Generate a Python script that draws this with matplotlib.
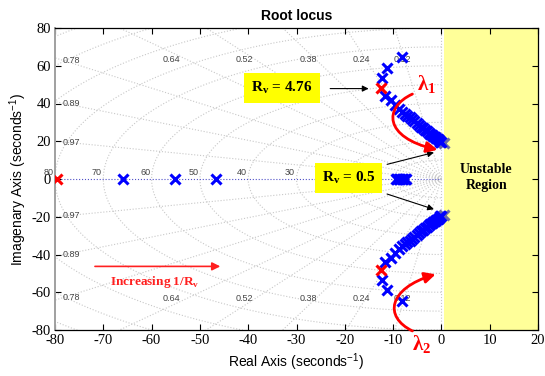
import matplotlib

matplotlib.use("Agg")

import matplotlib.pyplot as plt
import numpy as np
from matplotlib.patches import FancyArrowPatch
from matplotlib.path import Path

plt.rcParams["font.family"] = "sans-serif"
plt.rcParams["font.sans-serif"] = ["Liberation Sans", "DejaVu Sans"]
plt.rcParams["mathtext.fontset"] = "custom"
plt.rcParams["mathtext.rm"] = "Liberation Serif"
plt.rcParams["mathtext.bf"] = "Liberation Serif:bold"
plt.rcParams["mathtext.sf"] = "Liberation Sans"
plt.rcParams["axes.unicode_minus"] = False

# ── data ────────────────────────────────────────────────────────────────────
# open-loop / Rv = 4.76 poles (red) and real-axis poles (blue)
red_re = [-79.5, -12.6, -12.6]
red_im = [0.0, 48.4, -48.4]
real_re = [-66.0, -55.2, -46.7]
blob_re = [-9.4, -9.1, -8.8, -8.5, -8.2, -7.9, -7.6, -7.3]

# upper complex branch (lower branch is its conjugate)
branch_re = [-8.1, -11.2, -12.4, -11.6, -10.5, -9.7, -8.7, -8.1, -7.6, -7.1,
             -6.6, -6.1, -5.6, -5.1, -4.6, -4.2, -3.8, -3.4, -3.0, -2.6,
             -2.3, -2.0, -1.7, -1.4, -1.1, -0.8, -0.5, -0.2, 0.0]
branch_im = [64.9, 59.0, 53.7, 44.1, 42.0, 39.4, 37.2, 35.6, 34.6, 33.6,
             32.6, 31.6, 30.6, 29.6, 28.6, 27.8, 27.0, 26.2, 25.4, 24.6,
             24.0, 23.4, 22.8, 22.2, 21.6, 21.0, 20.4, 19.8, 19.4]
end_re = [0.6]
end_im = [19.0]

# sgrid
zetas = [0.12, 0.24, 0.38, 0.52, 0.64, 0.78, 0.89, 0.97]
left_zetas = [0.78, 0.89, 0.97]
wns = [10, 20, 30, 40, 50, 60, 70, 80, 90, 100, 110]
wn_labels = [30, 40, 50, 60, 70, 80]

xticks = list(range(-80, 21, 10))
yticks = list(range(-80, 81, 20))

BLUE = "#0000ff"
RED = "#ff0000"
GRID = "#c8c8c8"

fig = plt.figure(figsize=(5.45, 3.76), dpi=100)
ax = fig.add_axes([55 / 545, 1 - 330 / 376, 483 / 545, 302 / 376])
ax.set_xlim(-80, 20)
ax.set_ylim(-80, 80)

# unstable region
ax.axvspan(0.5, 20, color="#ffff99", zorder=0, lw=0)

# ── sgrid ──
th = np.linspace(np.pi / 2, 3 * np.pi / 2, 200)
for wn in wns:
    ax.plot(wn * np.cos(th), wn * np.sin(th), ":", color=GRID, lw=0.8, zorder=1)
for z in zetas:
    t = np.tan(np.arccos(z))
    r = np.array([0, 200])
    ax.plot(-r * z, r * np.sqrt(1 - z ** 2), ":", color=GRID, lw=0.8, zorder=1)
    ax.plot(-r * z, -r * np.sqrt(1 - z ** 2), ":", color=GRID, lw=0.8, zorder=1)
    if z in left_zetas:
        for s in (1, -1):
            ax.text(-78.5, s * 78 * t, f"{z:.2f}", fontsize=6.5, color="#444444",
                    ha="left", va="center", zorder=2)
    else:
        for s in (1, -1):
            ax.text(-67 / t, s * 63.5, f"{z:.2f}", fontsize=6.5, color="#444444",
                    ha="center", va="center", zorder=2)
for wn in wn_labels:
    ax.text(-wn - 0.3, 0.8, str(wn), fontsize=6.5, color="#444444", ha="right",
            va="bottom", zorder=2, clip_on=False)
ax.plot([-80, 0], [0, 0], ":", color="#5050c8", lw=0.8, zorder=1)
ax.axvline(0, ls=":", color=GRID, lw=0.8, zorder=1)

# ── poles ──
mk = dict(ls="none", marker="x", ms=7.5, mew=2.2)
ax.plot(end_re, end_im, color="#6a6aa8", zorder=3, **mk)
ax.plot(end_re, [-v for v in end_im], color="#6a6aa8", zorder=3, **mk)
ax.plot(real_re, [0] * len(real_re), color=BLUE, zorder=4, **mk)
ax.plot(blob_re, [0] * len(blob_re), color=BLUE, zorder=4, **mk)
ax.plot(branch_re, branch_im, color=BLUE, zorder=4, **mk)
ax.plot(branch_re, [-v for v in branch_im], color=BLUE, zorder=4, **mk)
ax.plot(red_re, red_im, color=RED, zorder=5, **mk)

# ── annotations ──
box = dict(boxstyle="square,pad=0.45", fc="#ffff00", ec="none")
ax.text(-33, 48, r"$\mathbf{R_{v}}$ = 4.76", fontsize=11, fontweight="bold",
        family="Liberation Serif", ha="center", va="center", bbox=box, zorder=6)
ax.text(-19.2, 0.5, r"$\mathbf{R_{v}}$ = 0.5", fontsize=11, fontweight="bold",
        family="Liberation Serif", ha="center", va="center", bbox=box, zorder=6)
arr = dict(arrowstyle="-|>", color="black", lw=0.8, mutation_scale=9)
ax.annotate("", xy=(-14.5, 47.9), xytext=(-23.6, 47.9), arrowprops=arr, zorder=7)
ax.annotate("", xy=(-1.0, 14.4), xytext=(-11.8, 7.4), arrowprops=arr, zorder=7)
ax.annotate("", xy=(-1.0, -16.5), xytext=(-11.8, -7.5), arrowprops=arr, zorder=7)

for verts in ([(-6, 45), (-12, 38), (-12, 22), (-0.8, 15.5)],
              [(-6, -80.5), (-12, -73), (-11, -58), (-1.2, -50.5)]):
    p = Path(verts, [Path.MOVETO, Path.CURVE4, Path.CURVE4, Path.CURVE4])
    ax.add_patch(FancyArrowPatch(path=p, arrowstyle="-|>", color=RED, lw=2,
                                 mutation_scale=16, zorder=8, clip_on=False))

ax.text(-3.0, 50, r"λ$_{\mathbf{1}}$", fontsize=15, fontweight="bold",
        family="Liberation Serif", color=RED, ha="center", va="center", zorder=8)
ax.text(-4.0, -88, r"λ$_{\mathbf{2}}$", fontsize=15, fontweight="bold",
        family="Liberation Serif", color=RED, ha="center", va="center",
        zorder=8, clip_on=False)

ax.annotate("", xy=(-45.2, -46.3), xytext=(-72.3, -46.3), zorder=8,
            arrowprops=dict(arrowstyle="-|>", color="#ff2020", lw=1.2,
                            mutation_scale=12))
ax.text(-59.3, -54.8, r"Increasing 1/R$_{\mathbf{v}}$", fontsize=9.5,
        fontweight="bold", family="Liberation Serif", color="#ff2020",
        ha="center", va="center", zorder=8)

ax.text(9.3, 1, "Unstable\nRegion", fontsize=10, fontweight="bold",
        family="Liberation Serif", ha="center", va="center", linespacing=1.3,
        zorder=8)

# ── axes styling ──
ax.set_xticks(xticks)
ax.set_xticklabels([str(v) for v in xticks], family="Liberation Serif",
                   fontsize=10.5)
ax.set_yticks(yticks)
ax.set_yticklabels([str(v) for v in yticks], family="Liberation Serif",
                   fontsize=10.5)
ax.tick_params(direction="in", length=4, width=0.8, top=True, right=True,
               pad=3)
ax.spines["left"].set_color("#a0a0a0")
ax.spines["left"].set_linewidth(1.4)
for s in ("top", "bottom", "right"):
    ax.spines[s].set_linewidth(0.9)
ax.set_title("Root locus", fontsize=10, fontweight="bold", pad=6)
ax.set_xlabel(r"Real Axis (seconds$^{\mathsf{-1}}$)", fontsize=10, labelpad=3)
ax.set_ylabel(r"Imagenary Axis (seconds$^{\mathsf{-1}}$)", fontsize=10,
              labelpad=2)

fig.savefig("out.png", dpi=100)
